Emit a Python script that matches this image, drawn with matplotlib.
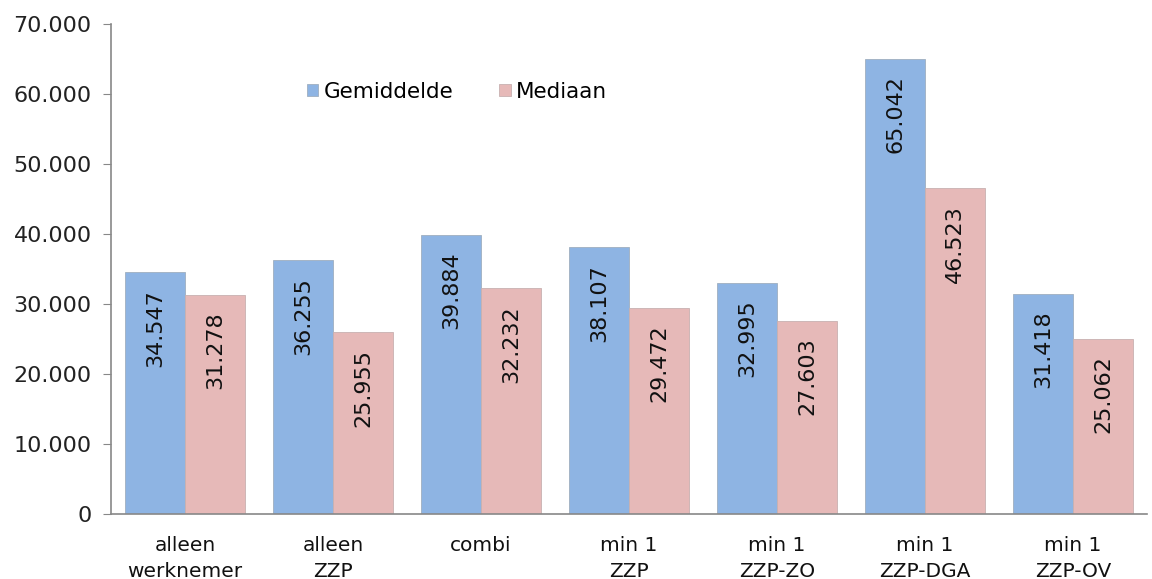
import matplotlib.pyplot as plt
import numpy as np

categories = ["alleen\nwerknemer", "alleen\nZZP", "combi", "min 1\nZZP",
              "min 1\nZZP-ZO", "min 1\nZZP-DGA", "min 1\nZZP-OV"]
gemiddelde = [34547, 36255, 39884, 38107, 32995, 65042, 31418]
mediaan = [31278, 25955, 32232, 29472, 27603, 46523, 25062]


def fmt(v):
    return f"{v:,.0f}".replace(",", ".")


plt.rcParams["font.family"] = "DejaVu Sans"

fig = plt.figure(figsize=(11.52, 5.79), dpi=100)
ax = fig.add_axes([0.0964, 0.1123, 0.8993, 0.8462])

x = np.arange(len(categories))
w = 0.405
b1 = ax.bar(x - w / 2, gemiddelde, w, color="#8EB4E3", edgecolor="#9FAFC0",
            linewidth=0.6, label="Gemiddelde")
b2 = ax.bar(x + w / 2, mediaan, w, color="#E6B9B8", edgecolor="#C8B0B0",
            linewidth=0.6, label="Mediaan")

for bars, vals in ((b1, gemiddelde), (b2, mediaan)):
    for rect, v in zip(bars, vals):
        ax.annotate(fmt(v), (rect.get_x() + rect.get_width() / 2, v),
                    xytext=(0, -12), textcoords="offset points",
                    rotation=90, ha="center", va="top", fontsize=16,
                    color="#111111")

ax.set_xlim(-0.5, len(categories) - 0.5)
ax.set_ylim(0, 70000)
ax.set_yticks(np.arange(0, 70001, 10000))
ax.set_yticklabels([fmt(v) for v in np.arange(0, 70001, 10000)])
ax.set_xticks(x)
ax.set_xticklabels(categories, linespacing=1.45)
ax.tick_params(axis="y", labelsize=16, length=6, color="#888888",
               labelcolor="#222222", pad=8)
ax.tick_params(axis="x", labelsize=14.5, length=0, labelcolor="#111111", pad=16)

for s in ("top", "right"):
    ax.spines[s].set_visible(False)
for s in ("left", "bottom"):
    ax.spines[s].set_color("#888888")
    ax.spines[s].set_linewidth(1.2)

ax.legend(loc="upper left", bbox_to_anchor=(0.17, 0.922), ncol=2, frameon=False,
          fontsize=15.5, handlelength=0.55, handleheight=0.55, handletextpad=0.25,
          columnspacing=2.1)

fig.savefig("out.png", dpi=100)
